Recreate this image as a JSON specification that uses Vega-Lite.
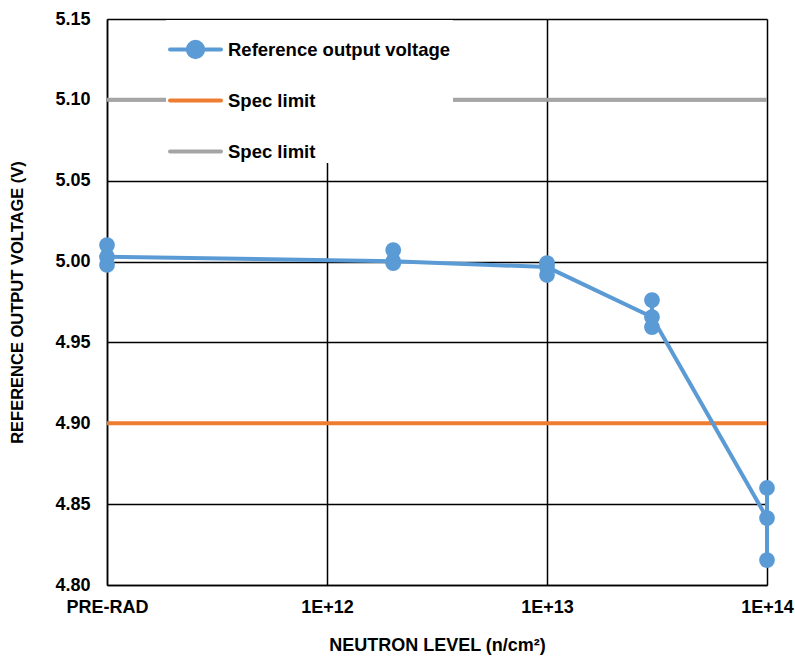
{
  "$schema": "https://vega.github.io/schema/vega-lite/v6.json",
  "width": 660,
  "height": 566,
  "autosize": {"type": "none"},
  "padding": {"left": 107, "top": 19, "right": 28, "bottom": 71},
  "background": "white",
  "config": {
    "view": {"stroke": null},
    "font": "Liberation Sans",
    "axis": {
      "labelFont": "Liberation Sans",
      "labelFontWeight": "bold",
      "labelFontSize": 18,
      "labelColor": "#000000",
      "titleFont": "Liberation Sans",
      "titleFontWeight": "bold",
      "titleFontSize": 16.5,
      "titleColor": "#000000",
      "grid": true,
      "gridColor": "#000000",
      "gridWidth": 1.5,
      "gridOpacity": 1,
      "domainColor": "#000000",
      "domainWidth": 1.5,
      "ticks": false
    }
  },
  "datasets": {
    "units": [
      {"x": 1e11, "v": 5.0102},
      {"x": 1e11, "v": 5.0030},
      {"x": 1e11, "v": 4.9979},
      {"x": 2e12, "v": 5.0071},
      {"x": 2e12, "v": 5.0002},
      {"x": 2e12, "v": 4.9990},
      {"x": 1e13, "v": 4.9990},
      {"x": 1e13, "v": 4.9966},
      {"x": 1e13, "v": 4.9917},
      {"x": 3e13, "v": 4.9762},
      {"x": 3e13, "v": 4.9657},
      {"x": 3e13, "v": 4.9595},
      {"x": 1e14, "v": 4.8600},
      {"x": 1e14, "v": 4.8414},
      {"x": 1e14, "v": 4.8154}
    ],
    "limits": [
      {"series": "Spec limit (upper)", "v": 5.10},
      {"series": "Spec limit (lower)", "v": 4.90}
    ]
  },
  "layer": [
    {
      "data": {"name": "limits"},
      "mark": {"type": "rule", "strokeWidth": 4},
      "encoding": {
        "y": {
          "field": "v",
          "type": "quantitative",
          "scale": {"domain": [4.8, 5.15], "nice": false, "zero": false},
          "axis": {
            "values": [4.8, 4.85, 4.9, 4.95, 5.0, 5.05, 5.1, 5.15],
            "format": ".2f",
            "labelPadding": 17,
            "title": "REFERENCE OUTPUT VOLTAGE (V)",
            "titlePadding": 29
          }
        },
        "color": {
          "field": "series",
          "type": "nominal",
          "scale": {
            "domain": ["Reference output voltage", "Spec limit (lower)", "Spec limit (upper)"],
            "range": ["#5B9BD5", "#ED7D31", "#A5A5A5"]
          },
          "legend": {
            "orient": "none",
            "legendX": 59,
            "legendY": 1,
            "padding": 2,
            "fillColor": "white",
            "title": null,
            "symbolType": "stroke",
            "symbolSize": 2601,
            "symbolStrokeWidth": 4,
            "labelFont": "Liberation Sans",
            "labelFontWeight": "bold",
            "labelFontSize": 18.5,
            "labelColor": "#000000",
            "labelOffset": 5,
            "labelLimit": 600,
            "gridAlign": "all",
            "rowPadding": 7,
            "labelExpr": "datum.value === 'Reference output voltage' ? datum.value : 'Spec limit'",
            "encode": {
              "symbols": {
                "update": {
                  "shape": {"signal": "datum.value === 'Reference output voltage' ? 'M-1,0H1M-0.3,0A0.3,0.3,0,1,1,0.3,0A0.3,0.3,0,1,1,-0.3,0Z' : 'stroke'"},
                  "fill": {"signal": "datum.value === 'Reference output voltage' ? '#5B9BD5' : 'transparent'"},
                  "strokeCap": {"value": "round"}
                }
              }
            }
          }
        }
      }
    },
    {
      "data": {"name": "units"},
      "mark": {"type": "rule", "strokeWidth": 4},
      "encoding": {
        "x": {"field": "x", "type": "quantitative"},
        "y": {"aggregate": "min", "field": "v", "type": "quantitative"},
        "y2": {"aggregate": "max", "field": "v"},
        "color": {"datum": "Reference output voltage"}
      }
    },
    {
      "data": {"name": "units"},
      "mark": {"type": "line", "strokeWidth": 4},
      "encoding": {
        "x": {
          "field": "x",
          "type": "quantitative",
          "scale": {"type": "log", "domain": [1e11, 1e14], "nice": false},
          "axis": {
            "values": [1e11, 1e12, 1e13, 1e14],
            "labelExpr": "datum.value < 5e11 ? 'PRE-RAD' : '1E+' + round(log(datum.value) / LN10)",
            "labelPadding": 13,
            "labelFlush": false,
            "labelOverlap": false,
            "title": "NEUTRON LEVEL (n/cm²)",
            "titleFontSize": 18,
            "titlePadding": 20
          }
        },
        "y": {"aggregate": "median", "field": "v", "type": "quantitative"},
        "color": {"datum": "Reference output voltage"}
      }
    },
    {
      "data": {"name": "units"},
      "mark": {"type": "point", "filled": true, "opacity": 1, "size": 250},
      "encoding": {
        "x": {"field": "x", "type": "quantitative"},
        "y": {"field": "v", "type": "quantitative"},
        "color": {"datum": "Reference output voltage"}
      }
    }
  ]
}
